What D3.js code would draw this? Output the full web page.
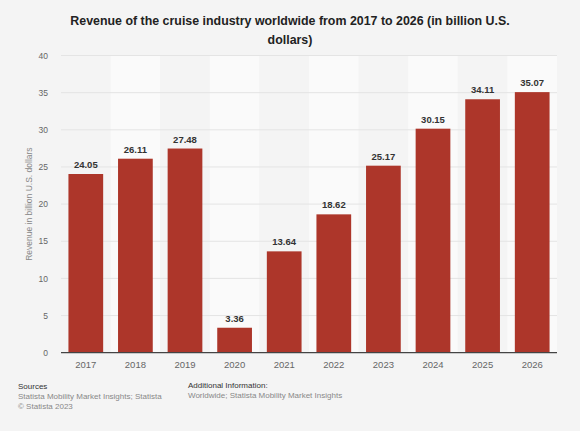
<!DOCTYPE html>
<html><head><meta charset="utf-8">
<script src="https://cdn.jsdelivr.net/npm/d3@7"></script>
<style>body{margin:0;background:#f4f4f4;}svg{display:block;font-family:"Liberation Sans",Arial,sans-serif;}</style>
</head><body><svg id="c" width="580" height="431"></svg>
<script>
const years = ["2017","2018","2019","2020","2021","2022","2023","2024","2025","2026"];
const revenue = [24.05,26.11,27.48,3.36,13.64,18.62,25.17,30.15,34.11,35.07];
const yTicks = [0,5,10,15,20,25,30,35,40];

const svg = d3.select("#c");
const W=580,H=431;
svg.append("rect").attr("width",W).attr("height",H).attr("fill","#f4f4f4");
const m={l:61,r:23,t:55.5,b:78.3};
const x=d3.scaleBand().domain(years).range([m.l,W-m.r]).paddingInner(0.3).paddingOuter(0.15);
const xb=d3.scaleBand().domain(years).range([m.l,W-m.r]);
const y=d3.scaleLinear().domain([0,40]).range([H-m.b,m.t]);

svg.append("g").selectAll("rect").data(years).join("rect")
 .attr("x",d=>xb(d)).attr("width",xb.bandwidth())
 .attr("y",y(40)).attr("height",y(0)-y(40))
 .attr("fill",(d,i)=>i%2?"#fafafa":"#f4f4f4");

svg.append("g").selectAll("line").data(yTicks.slice(1)).join("line")
 .attr("x1",m.l).attr("x2",W-m.r).attr("y1",d=>y(d)).attr("y2",d=>y(d))
 .attr("stroke","#e4e4e4").attr("stroke-width",1);

const ya=svg.append("g").attr("transform",`translate(${m.l-13},0)`)
 .call(d3.axisLeft(y).tickValues(yTicks).tickSize(0).tickPadding(0));
ya.select(".domain").remove();
ya.selectAll("text").attr("fill","#666").attr("font-size","8.5px").attr("font-family","Liberation Sans, Arial, sans-serif");

svg.append("g").selectAll("rect").data(revenue).join("rect")
 .attr("x",(d,i)=>x(years[i])).attr("width",x.bandwidth())
 .attr("y",d=>y(d)).attr("height",d=>y(0)-y(d))
 .attr("fill","#ad362a");

svg.append("g").selectAll("text").data(revenue).join("text")
 .attr("x",(d,i)=>x(years[i])+x.bandwidth()/2).attr("y",d=>y(d)-6)
 .attr("text-anchor","middle").attr("font-size","9.5px").attr("font-weight","bold")
 .attr("fill","#333").text(d=>d.toFixed(2));

svg.append("line").attr("x1",m.l).attr("x2",W-m.r).attr("y1",y(0)).attr("y2",y(0))
 .attr("stroke","#444").attr("stroke-width",1.3);
const xa=svg.append("g").attr("transform",`translate(0,${y(0)})`)
 .call(d3.axisBottom(x).tickSize(0).tickPadding(9));
xa.select(".domain").remove();
xa.selectAll("text").attr("fill","#666").attr("font-size","9.5px").attr("font-family","Liberation Sans, Arial, sans-serif");

svg.append("text").attr("transform",`translate(32,${(y(0)+y(40))/2}) rotate(-90)`)
 .attr("text-anchor","middle").attr("font-size","8.5px").attr("fill","#888")
 .text("Revenue in billion U.S. dollars");

const t=svg.append("text").attr("text-anchor","middle").attr("font-size","12.4px").attr("font-weight","bold").attr("fill","#222");
t.append("tspan").attr("x",290).attr("y",25).text("Revenue of the cruise industry worldwide from 2017 to 2026 (in billion U.S.");
t.append("tspan").attr("x",290).attr("y",44).text("dollars)");

const f=(tx,xx,yy,c)=>svg.append("text").attr("x",xx).attr("y",yy).attr("font-size","8px").attr("fill",c).text(tx);
f("Sources",18,389,"#333");
f("Statista Mobility Market Insights; Statista",18,399,"#888");
f("© Statista 2023",18,409,"#888");
f("Additional Information:",188,388,"#333");
f("Worldwide; Statista Mobility Market Insights",188,398,"#888");
</script></body></html>
